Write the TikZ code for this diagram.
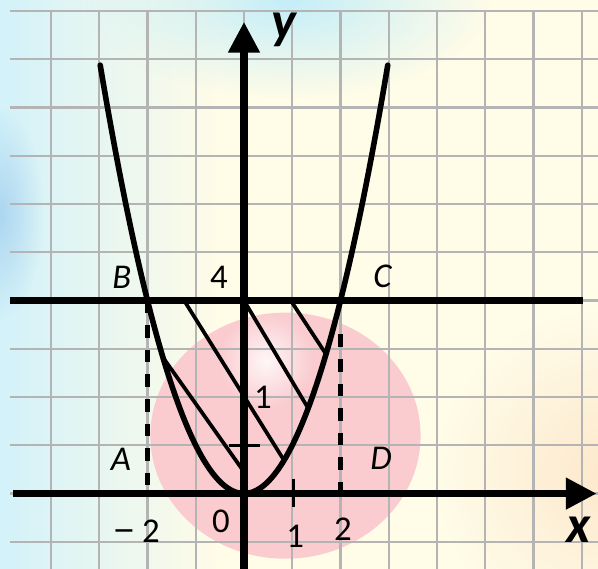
\documentclass[tikz,border=0pt]{standalone}
\usepackage{fontspec}
\setmainfont{Carlito}
\newfontfamily\minusfont{Liberation Sans}
\usetikzlibrary{arrows.meta,fadings}
\definecolor{gridgray}{RGB}{180,180,180}
\definecolor{ballpink}{RGB}{250,203,207}
\definecolor{skycyan}{RGB}{196,238,249}
\definecolor{blobblue}{RGB}{172,214,240}
\definecolor{paleyellow}{RGB}{255,252,232}
\definecolor{peach}{RGB}{253,232,204}
\tikzfading[name=fade right, left color=transparent!0, right color=transparent!100]
\tikzfading[name=fade out, inner color=transparent!0, outer color=transparent!100]

\begin{document}
\begin{tikzpicture}[
    gridline/.style={draw=gridgray, line width=1.3pt},
    axis/.style={line width=4.6pt, -{Triangle[length=0.64cm, width=0.62cm]}},
    level/.style={line width=4.4pt},
    curve/.style={line width=3.3pt, line cap=round},
    hatch/.style={line width=2.2pt},
    dropline/.style={line width=2.6pt, dash pattern=on 7.5pt off 7pt},
    tickmark/.style={line width=2pt},
    lbl/.style={font=\fontsize{20.5}{24}\selectfont, inner sep=0pt},
    ptlbl/.style={font=\fontsize{20.5}{24}\selectfont\itshape, inner sep=0pt},
    axlbl/.style={font=\fontsize{31}{36}\selectfont\bfseries\itshape, inner sep=0pt}
]
\useasboundingbox (-5.057,-1.563) rectangle (7.337,10.23);

\fill[paleyellow] (-5.057,-1.563) rectangle (7.337,10.23);
\fill[skycyan!75, path fading=fade right] (-5.057,-1.563) rectangle (-0.6,10.23);
\fill[skycyan, path fading=fade out] (0.9,10.2) ellipse [x radius=4.2, y radius=2.0];
\fill[blobblue, path fading=fade out] (-5.06,5.8) ellipse [x radius=0.9, y radius=2.2];
\fill[peach, path fading=fade out] (7.6,0.4) ellipse [x radius=3.6, y radius=3.4];
\fill[ballpink] (0.86,1.2) ellipse [x radius=2.8, y radius=2.55];
\fill[white, opacity=0.85, path fading=fade out] (0.45,2.75) circle (1.0);

\draw[gridline] (-4.85,-1.563) grid (7.337,10.03);

\coordinate (pA) at (-2,0);
\coordinate (pB) at (-2,4);
\coordinate (pC) at (2,4);
\coordinate (pD) at (2,0);
\coordinate (pDtop) at (2,3.3);

\draw[dropline] (pB) -- (pA);
\draw[dropline] (pDtop) -- (pD);

\draw[hatch] (-1.68,2.8224) -- (0,0.45);
\draw[hatch] (-1.24,4) -- (0.83,0.6889);
\draw[hatch] (0,4) -- (1.33,1.7689);
\draw[hatch] (0.97,4) -- (1.70,2.89);

\draw[curve] plot[domain=-2.98:2.98, samples=80, smooth] (\x,{\x*\x});
\draw[level] (-4.85,4) -- (7.02,4);

\draw[axis] (-4.78,0) -- (7.31,0);
\draw[axis] (0,-1.563) -- (0,9.78);
\draw[tickmark] (-0.31,1) -- (0.34,1);
\draw[tickmark] (1.02,0.31) -- (1.02,-0.28);

\node[ptlbl] (B) at (-2.53,4.48) {B};
\node[lbl] (four) at (-0.52,4.48) {4};
\node[ptlbl] (C) at (2.87,4.50) {C};
\node[lbl] (one) at (0.39,1.99) {1};
\node[ptlbl] (A) at (-2.55,0.70) {A};
\node[ptlbl] (D) at (2.84,0.73) {D};
\node[lbl] (mtwo) at (-2.22,-0.78) {{\minusfont −} 2};
\node[lbl] (zero) at (-0.48,-0.58) {0};
\node[lbl] (xone) at (1.06,-0.88) {1};
\node[lbl] (xtwo) at (2.05,-0.74) {2};
\node[axlbl] (xlab) at (6.93,-0.74) {x};
\node[axlbl] (ylab) at (0.83,9.62) {y};
\end{tikzpicture}
\end{document}
